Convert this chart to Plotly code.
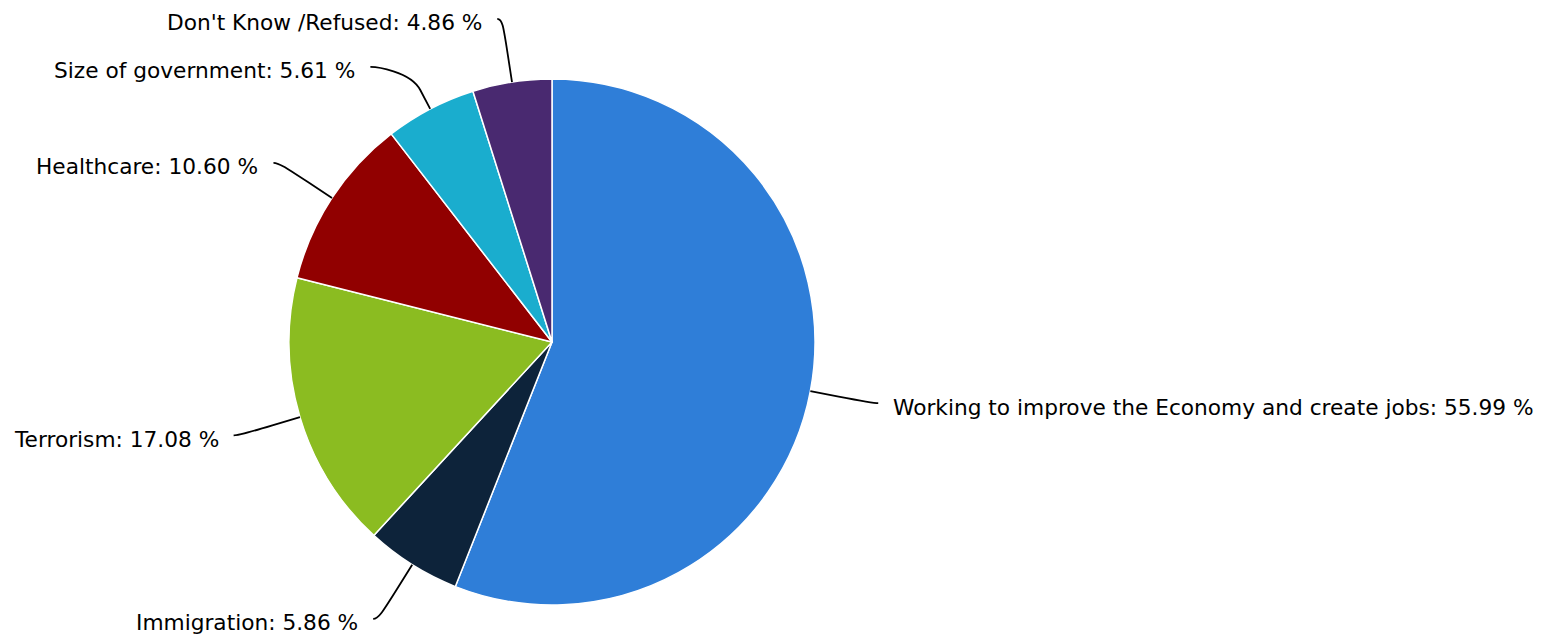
import math
import plotly.graph_objects as go

# ---- data ----
categories = [
    "Working to improve the Economy and create jobs",
    "Immigration",
    "Terrorism",
    "Healthcare",
    "Size of government",
    "Don't Know /Refused",
]
values = [55.99, 5.86, 17.08, 10.60, 5.61, 4.86]
colors = ["#2f7ed8", "#0d233a", "#8bbc21", "#910000", "#1aadce", "#492970"]

# ---- layout constants (pixels, in page coordinates) ----
W, H = 1564, 635
BODY = 8                           # default page body margin around the plot div
CX, CY, R = 552, 342, 263          # pie centre and radius
LABEL_DIST = 64                    # distance of labels beyond the rim
BREAK_OFF = 30                     # soft-connector break offset
PAD = 5
MIN_GAP = 48
TOP_LIMIT = 18
FONT = dict(family="DejaVu Sans", size=21.7, color="#000000")


def px(x):
    return (x - BODY) / W


def py(y):
    return 1 - (y - BODY) / H


fig = go.Figure()
fig.add_trace(go.Pie(
    labels=categories,
    values=values,
    sort=False,
    direction="clockwise",
    rotation=0,
    textinfo="none",
    hoverinfo="label+percent",
    marker=dict(colors=colors, line=dict(color="#ffffff", width=1.5)),
    domain=dict(x=[px(CX - R), px(CX + R)], y=[py(CY + R), py(CY - R)]),
    showlegend=False,
))

# ---- label placement (Highcharts-like) ----
total = sum(values)
RL = R + LABEL_DIST
items = []
cum = 0.0
for name, v in zip(categories, values):
    mid = (cum + v / 2) / total * 2 * math.pi
    cum += v
    dx, dy = math.sin(mid), -math.cos(mid)
    items.append(dict(name=name, v=v, dx=dx, dy=dy,
                      right=dx > 0, y=CY + RL * dy))

for side in (True, False):
    grp = sorted([it for it in items if it["right"] == side], key=lambda it: it["y"])
    prev = None
    for it in grp:
        it["y"] = max(it["y"], TOP_LIMIT)
        if prev is not None and it["y"] - prev < MIN_GAP:
            it["y"] = prev + MIN_GAP
        prev = it["y"]

shapes = []
annotations = []
for it in items:
    sgn = 1 if it["right"] else -1
    ly = it["y"]
    off = max(-1.0, min(1.0, (ly - CY) / RL))
    lx = CX + sgn * (RL * math.cos(math.asin(off)) + PAD)
    tx, ty = CX + R * it["dx"], CY + R * it["dy"]
    # keep the second control point from overshooting the label's height
    t_max = abs(ly - ty) / max(abs(it["dy"]), 1e-6) * 0.9
    c2d = min(2 * BREAK_OFF, t_max)
    bd = c2d / 2
    bx, by = CX + (R + bd) * it["dx"], CY + (R + bd) * it["dy"]
    c1x, c1y = lx - sgn * 5, ly
    c2x, c2y = CX + (R + c2d) * it["dx"], CY + (R + c2d) * it["dy"]
    path = (f"M {px(lx)},{py(ly)} C {px(c1x)},{py(c1y)} {px(c2x)},{py(c2y)} "
            f"{px(bx)},{py(by)} L {px(tx)},{py(ty)}")
    shapes.append(dict(type="path", path=path, xref="paper", yref="paper",
                       line=dict(color="#000000", width=1.8), layer="above"))
    annotations.append(dict(
        x=px(lx + sgn * 13), y=py(ly + 4), xref="paper", yref="paper",
        text=f"{it['name']}: {it['v']:.2f} %", showarrow=False,
        xanchor="left" if it["right"] else "right", yanchor="middle",
        font=FONT,
    ))

fig.update_layout(
    width=W, height=H,
    margin=dict(l=0, r=0, t=0, b=0),
    paper_bgcolor="#ffffff",
    plot_bgcolor="#ffffff",
    shapes=shapes,
    annotations=annotations,
    showlegend=False,
)

fig.write_html("out.html")
